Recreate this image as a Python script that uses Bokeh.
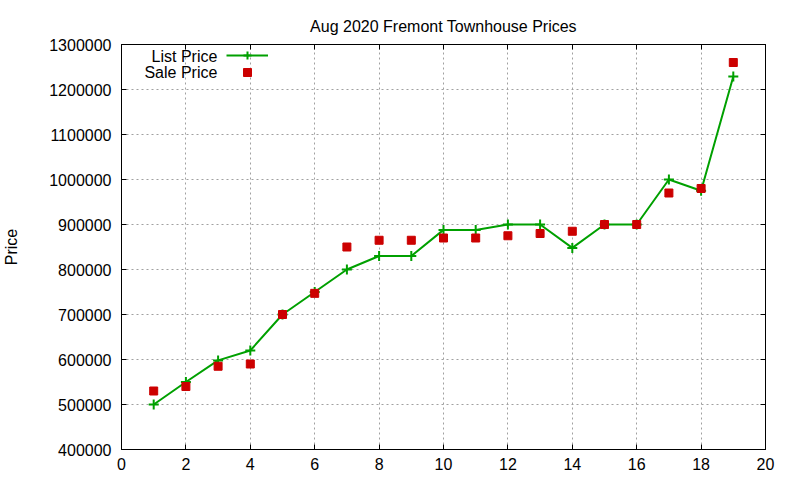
from bokeh.plotting import figure
from bokeh.models import (Range1d, FixedTicker, BasicTickFormatter, LinearAxis,
                          Legend, LegendItem, Label, ColumnDataSource)
from bokeh.embed import file_html
from bokeh.resources import INLINE

# ---- data ----
house_index = [1, 2, 3, 4, 5, 6, 7, 8, 9, 10, 11, 12, 13, 14, 15, 16, 17, 18, 19]
list_price = [500000, 550000, 598000, 620000, 700000, 750000, 800000, 830000, 830000,
              888000, 888000, 900000, 900000, 848000, 900000, 900000, 1000000, 975000, 1229000]
sale_price = [530000, 540000, 585000, 590000, 700000, 747000, 850000, 865000, 865000,
              870000, 870000, 875000, 880000, 885000, 900000, 900000, 970000, 980000, 1260000]
x_ticks = [0, 2, 4, 6, 8, 10, 12, 14, 16, 18, 20]
y_ticks = [400000, 500000, 600000, 700000, 800000, 900000, 1000000, 1100000, 1200000, 1300000]
series_names = ["List Price", "Sale Price"]

FONT = "Liberation Sans"
FS = "16px"
GREEN = "#00a000"
RED = "#cc0000"

src = ColumnDataSource(dict(x=house_index, lp=list_price, sp=sale_price))

p = figure(width=800, height=480, output_backend="svg", toolbar_location=None,
           x_range=Range1d(0, 20), y_range=Range1d(400000, 1300000),
           min_border_left=120, min_border_right=35, min_border_top=44, min_border_bottom=31,
           title="Aug 2020 Fremont Townhouse Prices")

p.title.align = "center"
p.title.text_font = FONT
p.title.text_font_size = FS
p.title.text_font_style = "normal"
p.title.text_color = "black"
p.title.standoff = 20

p.outline_line_color = "black"
p.outline_line_width = 1
p.background_fill_color = "white"
p.border_fill_color = "white"

for ax, ticks in ((p.xaxis[0], x_ticks), (p.yaxis[0], y_ticks)):
    ax.ticker = FixedTicker(ticks=ticks)
    ax.major_tick_in = 5
    ax.major_tick_out = 0
    ax.minor_tick_in = 0
    ax.minor_tick_out = 0
    ax.axis_line_color = "black"
    ax.major_tick_line_color = "black"
    ax.major_label_text_font = FONT
    ax.major_label_text_font_size = FS
    ax.major_label_text_color = "black"
p.xaxis[0].major_label_standoff = 8
p.yaxis[0].major_label_standoff = 10

p.yaxis[0].formatter = BasicTickFormatter(use_scientific=False)
p.yaxis[0].axis_label = "Price"
p.yaxis[0].axis_label_text_font = FONT
p.yaxis[0].axis_label_text_font_size = FS
p.yaxis[0].axis_label_text_font_style = "normal"
p.yaxis[0].axis_label_text_color = "black"
p.yaxis[0].axis_label_standoff = 26

# mirror ticks on the right and top edges
for loc, ticks in (("right", y_ticks), ("above", x_ticks)):
    mirror = LinearAxis(ticker=FixedTicker(ticks=ticks), major_tick_in=5, major_tick_out=0,
                        minor_tick_in=0, minor_tick_out=0, major_label_text_font_size="0px",
                        major_label_text_alpha=0, major_label_standoff=0,
                        axis_line_color="black", major_tick_line_color="black")
    p.add_layout(mirror, loc)

for g in (p.xgrid[0], p.ygrid[0]):
    g.grid_line_color = "#a0a0a0"
    g.grid_line_dash = "2 3"
    g.grid_line_width = 1
p.xgrid[0].ticker = FixedTicker(ticks=x_ticks[1:-1])
p.ygrid[0].ticker = FixedTicker(ticks=y_ticks[1:-1])

line_r = p.line("x", "lp", source=src, line_color=GREEN, line_width=2)
cross_r = p.scatter("x", "lp", source=src, marker="cross", size=10,
                    line_color=GREEN, line_width=2)
sq_r = p.scatter("x", "sp", source=src, marker="square", size=8,
                 fill_color=RED, line_color=RED)

# gnuplot-style key: text on the left, sample on the right
for rends, loc in (([line_r, cross_r], (105, 384)), ([sq_r], (105, 367))):
    leg = Legend(items=[LegendItem(label=" ", renderers=rends)],
                 location=loc, glyph_width=42, glyph_height=20,
                 label_standoff=0, label_width=0, label_height=20, padding=0, spacing=0,
                 margin=0, border_line_color=None, background_fill_alpha=0,
                 label_text_font_size="1px")
    p.add_layout(leg, "center")

for txt, yv in zip(series_names, (1273000, 1238000)):
    p.add_layout(Label(x=2.977, y=yv, text=txt, text_align="right", text_baseline="middle",
                       text_font=FONT, text_font_size=FS, text_color="black"))

open("out.html", "w").write(file_html(p, INLINE))
